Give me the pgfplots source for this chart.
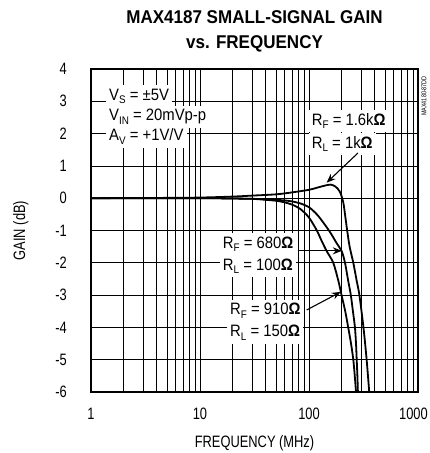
\documentclass[border=0pt]{standalone}
\usepackage{fontspec}
\setmainfont{Liberation Sans}[FakeStretch=0.78]
\newfontfamily\annfont{Liberation Sans}[FakeStretch=0.9]
\newfontfamily\titlefont{Liberation Sans}[FakeStretch=0.92]
\usepackage{pgfplots}
\usepackage{pgfplotstable}
\pgfplotsset{compat=1.18}
\usetikzlibrary{arrows.meta}
\newcommand\lbl{\fontsize{16.5}{19}\selectfont}
\newcommand\sub[1]{\raisebox{-0.22em}{\fontsize{11}{11}\selectfont #1}}
\newcommand\ohm{\textbf{Ω}}

\pgfplotstableread{
f g
1 0
2 0.005
5 0.01
10 0.02
20 0.05
30 0.08
50 0.12
70 0.18
100 0.26
120 0.33
140 0.39
158 0.42
175 0.36
192 0.2
206 -0.12
215 -0.55
224 -1.0
236 -1.5
255 -2.0
274 -2.56
290 -3.0
316 -4.0
338 -5.0
357 -6.0
}\rfhigh

\pgfplotstableread{
f g
1 0
10 0
20 -0.01
30 -0.02
40 -0.03
50 -0.05
60 -0.07
70 -0.1
83 -0.16
100 -0.28
118 -0.5
135 -0.75
156 -1.05
180 -1.4
200 -1.65
214 -2.0
229 -2.56
242 -3.0
253 -3.5
264 -4.0
270 -4.5
274 -5.0
278 -5.5
281 -6.0
}\rfmid

\pgfplotstableread{
f g
1 0
10 0
20 -0.01
30 -0.02
40 -0.05
50 -0.08
60 -0.13
70 -0.2
83 -0.33
100 -0.6
118 -1.0
131 -1.33
146 -1.65
167 -2.0
186 -2.56
199 -3.0
215 -3.5
229 -4.0
243 -4.5
255 -5.0
263 -5.5
270 -6.0
}\rflow

\begin{document}
\begin{tikzpicture}
\useasboundingbox (-91pt,-61pt) rectangle (338pt,392pt);
\begin{axis}[
  at={(0pt,0pt)}, anchor=south west,
  scale only axis, width=327pt, height=323pt,
  xmode=log, xmin=1, xmax=1000, ymin=-6, ymax=4,
  xtick={1,10,100,1000}, xticklabels={1,10,100,{\hspace*{-9pt}1000}},
  minor xtick={2,3,4,5,6,7,8,9,20,30,40,50,60,70,80,90,200,300,400,500,600,700,800,900},
  ytick={-6,-5,-4,-3,-2,-1,0,1,2,3,4},
  yticklabels={-6,-5,-4,-3,-2,-1,0,1,2,3,4},
  grid=both,
  major grid style={black, line width=0.75pt},
  minor grid style={black, line width=0.75pt},
  major tick length=0pt, minor tick length=0pt,
  axis line style={line width=1.8pt},
  ticklabel style={font=\lbl},
  yticklabel style={anchor=east, inner sep=0pt, xshift=-24pt},
  xticklabel style={anchor=north, inner sep=0pt, yshift=-16pt},
  xlabel={FREQUENCY (MHz)},
  xlabel style={font=\lbl, at={(axis description cs:0.5,-0.1703)}, anchor=base, inner sep=0pt},
  ylabel={GAIN (dB)},
  ylabel style={font=\lbl, at={(axis description cs:-0.2018,0.5)}, anchor=base, inner sep=0pt},
]
\addplot[black, line width=1.8pt, smooth, tension=0.5] table[x=f, y=g] {\rfhigh};
\addplot[black, line width=1.8pt, smooth, tension=0.5] table[x=f, y=g] {\rfmid};
\addplot[black, line width=1.8pt, smooth, tension=0.5] table[x=f, y=g] {\rflow};

\node[anchor=base west, fill=white, inner xsep=3pt, inner ysep=1.5pt, font=\annfont\lbl] at (rel axis cs:0.0459,0.9040) {\strut V\sub{S} = ±5V};
\node[anchor=base west, fill=white, inner xsep=3pt, inner ysep=1.5pt, font=\annfont\lbl] at (rel axis cs:0.0459,0.8406) {\strut V\sub{IN} = 20mVp-p};
\node[anchor=base west, fill=white, inner xsep=3pt, inner ysep=1.5pt, font=\annfont\lbl] at (rel axis cs:0.0459,0.7771) {\strut A\sub{V} = +1V/V};

\node[anchor=base west, fill=white, inner xsep=3pt, inner ysep=1.5pt, font=\annfont\lbl] at (rel axis cs:0.6657,0.8266) {\strut R\sub{F} = 1.6k\ohm};
\node[anchor=base west, fill=white, inner xsep=3pt, inner ysep=1.5pt, font=\annfont\lbl] at (rel axis cs:0.6657,0.7554) {\strut R\sub{L} = 1k\ohm};

\node[anchor=base west, fill=white, inner xsep=3pt, inner ysep=1.5pt, font=\annfont\lbl] at (rel axis cs:0.3936,0.4449) {\strut R\sub{F} = 680\ohm};
\node[anchor=base west, fill=white, inner xsep=3pt, inner ysep=1.5pt, font=\annfont\lbl] at (rel axis cs:0.3936,0.3777) {\strut R\sub{L} = 100\ohm};

\node[anchor=base west, fill=white, inner xsep=3pt, inner ysep=1.5pt, font=\annfont\lbl] at (rel axis cs:0.4159,0.2384) {\strut R\sub{F} = 910\ohm};
\node[anchor=base west, fill=white, inner xsep=3pt, inner ysep=1.5pt, font=\annfont\lbl] at (rel axis cs:0.4159,0.1712) {\strut R\sub{L} = 150\ohm};

\draw[-{Stealth[length=9pt,width=7pt]}, line width=1.1pt] (axis cs:281.5,1.40) -- (axis cs:145,0.48);
\draw[-{Stealth[length=9pt,width=7pt]}, line width=1.1pt] (axis cs:80,-1.63) -- (axis cs:200,-1.63);
\draw[-{Stealth[length=9pt,width=7pt]}, line width=1.1pt] (axis cs:95.3,-3.46) -- (axis cs:196,-2.9);
\end{axis}
\node[font=\titlefont\bfseries\fontsize{18.5}{22}\selectfont, anchor=base, inner sep=0pt] at (163.5pt,368.7pt) {MAX4187 SMALL-SIGNAL GAIN};
\node[font=\titlefont\bfseries\fontsize{18.5}{22}\selectfont, anchor=base, inner sep=0pt] at (163.5pt,343pt) {vs. FREQUENCY};
\node[rotate=90, font=\fontsize{7}{8}\selectfont, inner sep=0pt] at (333pt,296pt) {MAX4180-87DD};
\end{tikzpicture}
\end{document}
